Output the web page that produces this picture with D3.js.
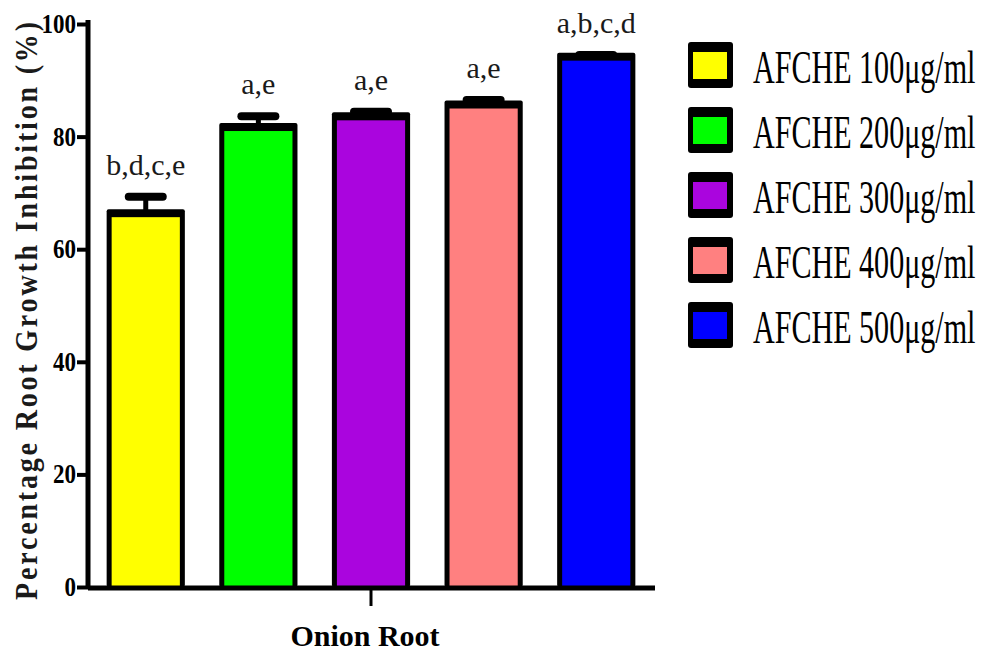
<!DOCTYPE html>
<html>
<head>
<meta charset="utf-8">
<script src="https://cdn.jsdelivr.net/npm/d3@7"></script>
<style>
  html, body { margin: 0; padding: 0; background: #fff; }
  svg { display: block; }
  svg text { font-family: "Liberation Serif", "Times New Roman", serif; }
</style>
</head>
<body>
<div id="chart"></div>
<script>
const seriesNames = [
  "AFCHE 100μg/ml",
  "AFCHE 200μg/ml",
  "AFCHE 300μg/ml",
  "AFCHE 400μg/ml",
  "AFCHE 500μg/ml",
];
const seriesColors = ["#ffff00", "#00ff00", "#aa05de", "#ff8080", "#0000ff"];
const meanValues = [66.4, 81.7, 83.6, 85.7, 94.2];
const semValues = [2.9, 1.9, 0.8, 0.8, 0.3];
const sigLabels = ["b,d,c,e", "a,e", "a,e", "a,e", "a,b,c,d"];
const yTicks = [0, 20, 40, 60, 80, 100];
const groupLabel = "Onion Root";
const yLabel = "Percentage Root Growth Inhibition (%)";

class VisBarChart {
  constructor({ el }) {
    this.el = el;
    this.initVis();
  }

  initVis() {
    this.width = 989;
    this.height = 651;
    this.axisX = 88;
    this.axisY = 587;
    this.sideStroke = 5;
    this.topStroke = 8;

    this.data = seriesNames.map((name, i) => ({
      name,
      color: seriesColors[i],
      mean: meanValues[i],
      sem: semValues[i],
      label: sigLabels[i],
    }));

    this.x = d3
      .scaleBand()
      .domain(seriesNames)
      .range([90, 652])
      .paddingInner(0.35)
      .paddingOuter(0.17);
    this.y = d3.scaleLinear().domain([0, 100]).range([this.axisY, 24]);

    this.svg = d3
      .select(this.el)
      .append("svg")
      .attr("width", this.width)
      .attr("height", this.height);

    this.renderBars();
    this.renderAxes();
    this.renderLegend();
  }

  renderBars() {
    const half = this.sideStroke / 2;
    const bar = this.svg
      .append("g")
      .selectAll(".bar")
      .data(this.data)
      .join("g")
      .attr("class", "bar");

    // black frame, then the coloured fill inside it
    bar
      .append("rect")
      .attr("x", (d) => this.x(d.name) - half)
      .attr("y", (d) => this.y(d.mean) - this.topStroke / 2)
      .attr("width", this.x.bandwidth() + this.sideStroke)
      .attr("height", (d) => this.y(0) - this.y(d.mean) + this.topStroke / 2)
      .attr("rx", 2)
      .attr("fill", "#000");
    bar
      .append("rect")
      .attr("x", (d) => this.x(d.name) + half)
      .attr("y", (d) => this.y(d.mean) + this.topStroke / 2)
      .attr("width", this.x.bandwidth() - this.sideStroke)
      .attr("height", (d) => this.y(0) - this.y(d.mean) - this.topStroke / 2)
      .attr("fill", (d) => d.color);

    const cx = (d) => this.x(d.name) + this.x.bandwidth() / 2;
    bar
      .append("line")
      .attr("x1", cx)
      .attr("x2", cx)
      .attr("y1", (d) => this.y(d.mean))
      .attr("y2", (d) => this.y(d.mean + d.sem))
      .attr("stroke", "#000")
      .attr("stroke-width", this.sideStroke);
    bar
      .append("line")
      .attr("x1", (d) => cx(d) - 17)
      .attr("x2", (d) => cx(d) + 17)
      .attr("y1", (d) => this.y(d.mean + d.sem))
      .attr("y2", (d) => this.y(d.mean + d.sem))
      .attr("stroke", "#000")
      .attr("stroke-width", this.topStroke)
      .attr("stroke-linecap", "round");

    bar
      .append("text")
      .attr("x", cx)
      .attr("y", (d) => this.y(d.mean + d.sem) - this.topStroke / 2 - 18)
      .attr("text-anchor", "middle")
      .attr("font-size", 30)
      .attr("fill", "#1a1a1a")
      .text((d) => d.label);
  }

  renderAxes() {
    this.svg
      .append("g")
      .attr("transform", `translate(${this.axisX},0)`)
      .call(d3.axisLeft(this.y).tickValues(yTicks).tickSize(11).tickFormat(""))
      .call((g) =>
        g
          .select(".domain")
          .attr("stroke-width", 5)
          .attr("d", `M0,${this.y(100) - 4}V${this.axisY + 2}`)
      )
      .call((g) => g.selectAll(".tick line").attr("stroke-width", 4));

    // tick labels: tall, narrow bold digits
    this.svg
      .append("g")
      .selectAll("text")
      .data(yTicks)
      .join("text")
      .attr("x", (d) => 76 - String(d).length * 11.5)
      .attr("y", (d) => this.y(d) + 9)
      .attr("font-size", 28)
      .attr("font-weight", "bold")
      .attr("textLength", (d) => String(d).length * 11.5)
      .attr("lengthAdjust", "spacingAndGlyphs")
      .attr("fill", "#000")
      .text((d) => d);

    // x axis: one category, centre tick
    const xMid = (this.x.range()[0] + this.x.range()[1]) / 2;
    this.svg
      .append("line")
      .attr("x1", this.axisX)
      .attr("x2", 655)
      .attr("y1", this.axisY + 1)
      .attr("y2", this.axisY + 1)
      .attr("stroke", "#000")
      .attr("stroke-width", 5);
    this.svg
      .append("line")
      .attr("x1", xMid)
      .attr("x2", xMid)
      .attr("y1", this.axisY + 1)
      .attr("y2", this.axisY + 19)
      .attr("stroke", "#000")
      .attr("stroke-width", 3);
    this.svg
      .append("text")
      .attr("x", xMid - 6)
      .attr("y", 646)
      .attr("text-anchor", "middle")
      .attr("font-weight", "bold")
      .attr("font-size", 30)
      .text(groupLabel);

    this.svg
      .append("text")
      .attr("transform", "translate(37,600) rotate(-90) scale(1,1.15)")
      .attr("font-weight", "bold")
      .attr("font-size", 28)
      .attr("fill", "#1a1a1a")
      .attr("textLength", 578)
      .attr("lengthAdjust", "spacing")
      .text(yLabel);
  }

  renderLegend() {
    const ly = d3.scalePoint().domain(seriesNames).range([42, 302]);
    const item = this.svg
      .append("g")
      .selectAll(".legend-item")
      .data(this.data)
      .join("g")
      .attr("class", "legend-item")
      .attr("transform", (d) => `translate(688,${ly(d.name)})`);
    item
      .append("rect")
      .attr("width", 45)
      .attr("height", 46)
      .attr("rx", 3)
      .attr("fill", "#000");
    item
      .append("rect")
      .attr("x", 5)
      .attr("y", 10)
      .attr("width", 34)
      .attr("height", 27)
      .attr("fill", (d) => d.color);
    item
      .append("text")
      .attr("transform", "translate(65,41) scale(0.64,1)")
      .attr("font-size", 47)
      .attr("fill", "#000")
      .text((d) => d.name);
  }
}

new VisBarChart({ el: document.getElementById("chart") });
</script>
</body>
</html>
